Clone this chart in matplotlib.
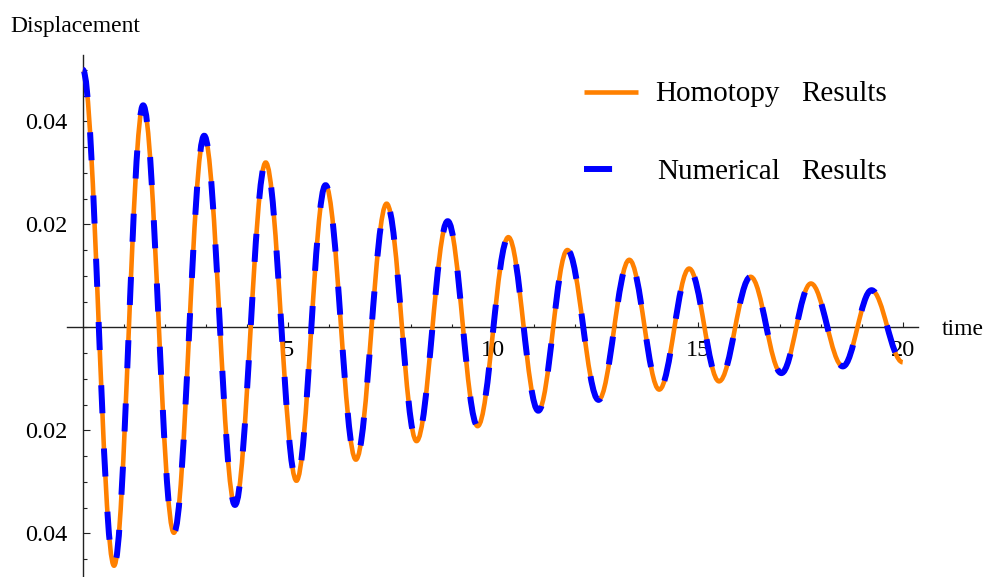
import numpy as np
import matplotlib
matplotlib.use("Agg")
import matplotlib.pyplot as plt
from matplotlib.path import Path
from matplotlib.patches import PathPatch
from matplotlib.lines import Line2D
from matplotlib.ticker import FixedLocator

# turning points of the displacement curve
hom_t = [0.00, 0.76, 1.47, 2.22, 2.96, 3.71, 4.46, 5.21, 5.92, 6.66, 7.41, 8.14, 8.90, 9.63,
         10.38, 11.11, 11.82, 12.58, 13.33, 14.06, 14.79, 15.52, 16.29, 17.04, 17.76, 18.54,
         19.24, 20.00]
hom_y = [0.0500, -0.0463, 0.0431, -0.0399, 0.0372, -0.0345, 0.0320, -0.0298, 0.0276, -0.0257,
         0.0240, -0.0221, 0.0206, -0.0192, 0.0175, -0.0162, 0.0150, -0.0141, 0.0131, -0.0121,
         0.0114, -0.0105, 0.0098, -0.0089, 0.0085, -0.0076, 0.0072, -0.0068]

num_t = [0.00, 0.76, 1.47, 2.22, 2.96, 3.71, 4.46, 5.21, 5.92, 6.66, 7.41, 8.14, 8.90, 9.63,
         10.38, 11.11, 11.82, 12.58, 13.33, 14.06, 14.79, 15.52, 16.29, 17.04, 17.76, 18.54,
         19.24, 20.00]
num_y = [0.0500, -0.0463, 0.0431, -0.0399, 0.0372, -0.0345, 0.0320, -0.0298, 0.0276, -0.0257,
         0.0240, -0.0221, 0.0206, -0.0192, 0.0175, -0.0162, 0.0150, -0.0141, 0.0131, -0.0121,
         0.0114, -0.0105, 0.0098, -0.0089, 0.0085, -0.0076, 0.0072, -0.0068]

x_major = [5, 10, 15, 20]
x_labels = ['5', '10', '15', '20']
y_major = [-0.04, -0.02, 0.02, 0.04]
y_labels = ['0.04', '0.02', '0.02', '0.04']

ORANGE = '#ff8000'
BLUE = '#0000ff'
FONT = 'Liberation Serif'


def wave_path(t, y, k=0.3634):
    # cubic bezier between consecutive turning points (flat tangent at each one)
    verts = [(t[0], y[0])]
    codes = [Path.MOVETO]
    for i in range(len(t) - 1):
        dt = t[i + 1] - t[i]
        verts += [(t[i] + k * dt, y[i]), (t[i + 1] - k * dt, y[i + 1]), (t[i + 1], y[i + 1])]
        codes += [Path.CURVE4] * 3
    return Path(verts, codes)


W, H = 983, 577
fig = plt.figure(figsize=(W / 100, H / 100), dpi=100)
ax = fig.add_axes([0, 0, 1, 1])
ax.set_xlim(-2.022, 21.959)
ax.set_ylim(-0.04849, 0.06355)
ax.patch.set_alpha(0)

ax.add_patch(PathPatch(wave_path(hom_t, hom_y), fill=False, edgecolor=ORANGE, lw=3.3,
                       capstyle='butt', joinstyle='round', zorder=3))
ax.add_patch(PathPatch(wave_path(num_t, num_y), fill=False, edgecolor=BLUE, lw=4.3,
                       linestyle=(0, (4.7, 5.9)), capstyle='butt', joinstyle='round', zorder=4))

# mathematica-style axes crossing at the origin
for s in ['top', 'right']:
    ax.spines[s].set_visible(False)
ax.spines['left'].set_position(('data', 0))
ax.spines['bottom'].set_position(('data', 0))
ax.spines['left'].set_bounds(-0.0485, 0.0529)
ax.spines['bottom'].set_bounds(-0.395, 20.38)
for s in ['left', 'bottom']:
    ax.spines[s].set_color('#222222')
    ax.spines[s].set_linewidth(1.0)

ax.set_xticks(x_major, labels=x_labels)
ax.set_yticks(y_major, labels=y_labels)
ax.xaxis.set_minor_locator(FixedLocator([v for v in range(1, 21) if v % 5]))
ax.yaxis.set_minor_locator(FixedLocator(np.round(np.arange(-0.045, 0.0501, 0.005), 3)))
ax.tick_params(axis='x', which='major', direction='in', length=3.5, width=0.8, pad=9,
               colors='#222222', labelcolor='black', labelsize=17.5)
ax.tick_params(axis='x', which='minor', direction='in', length=2, width=0.8, colors='#222222')
ax.tick_params(axis='y', which='major', direction='in', length=5, width=0.8, pad=11,
               colors='#222222', labelcolor='black', labelsize=17.5)
ax.tick_params(axis='y', which='minor', direction='in', length=3, width=0.8, colors='#222222')
for lab in ax.get_xticklabels() + ax.get_yticklabels():
    lab.set_fontfamily(FONT)

fig.text(10 / W, 1 - 32 / H, 'Displacement', fontfamily=FONT, fontsize=17, va='baseline')
fig.text(942 / W, 1 - 335 / H, 'time', fontfamily=FONT, fontsize=17, va='baseline')

# legend
fig.add_artist(Line2D([584 / W, 638 / W], [1 - 91.7 / H] * 2, color=ORANGE, lw=3.3,
                      solid_capstyle='butt'))
fig.add_artist(Line2D([584 / W, 638 / W], [1 - 169 / H] * 2, color=BLUE, lw=4.3,
                      linestyle=(0, (4.7, 5.9)), dash_capstyle='butt'))
fig.text(655 / W, 1 - 101 / H, 'Homotopy', fontfamily=FONT, fontsize=21, va='baseline')
fig.text(801 / W, 1 - 101 / H, 'Results', fontfamily=FONT, fontsize=21, va='baseline')
fig.text(657 / W, 1 - 179 / H, 'Numerical', fontfamily=FONT, fontsize=21, va='baseline')
fig.text(801 / W, 1 - 179 / H, 'Results', fontfamily=FONT, fontsize=21, va='baseline')

fig.savefig('out.png', dpi=100, facecolor='white')
